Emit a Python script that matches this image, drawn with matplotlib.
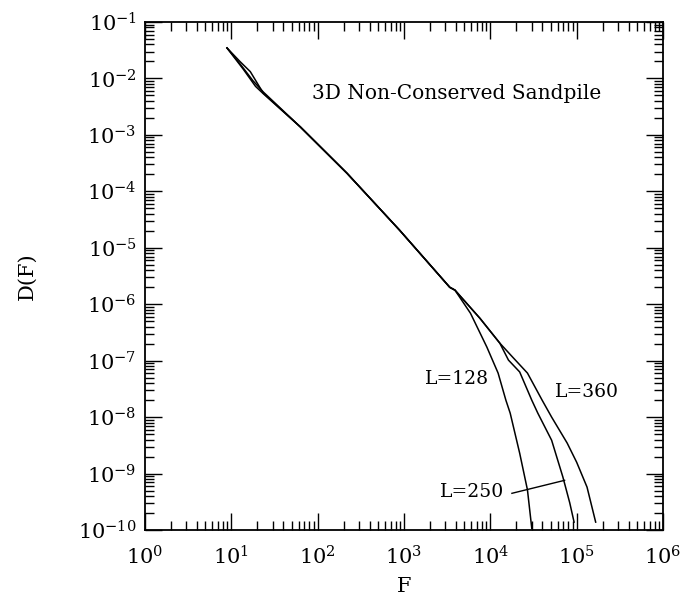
import matplotlib
matplotlib.use("Agg")
import matplotlib.pyplot as plt
import numpy as np

plt.rcParams["font.family"] = "serif"
plt.rcParams["font.serif"] = ["DejaVu Serif"]
plt.rcParams["mathtext.fontset"] = "dejavuserif"

# avalanche flow distribution D(F) (log10 values)
# small-F heads differ a little between system sizes
log_f_head_128 = [0.95, 1.10, 1.22, 1.37]
log_d_head_128 = [-1.46, -1.70, -1.88, -2.26]
log_f_head_250 = [0.95, 1.12, 1.25, 1.37]
log_d_head_250 = [-1.46, -1.78, -2.04, -2.24]
log_f_head_360 = [0.95, 1.14, 1.28, 1.37]
log_d_head_360 = [-1.46, -1.84, -2.14, -2.27]

log_f_common = [1.80, 2.34, 2.95, 3.53, 3.59]
log_d_common = [-2.86, -3.68, -4.69, -5.70, -5.75]

log_f_128 = [3.77, 3.96, 4.09, 4.18, 4.23, 4.34, 4.43, 4.48]
log_d_128 = [-6.16, -6.76, -7.22, -7.70, -7.93, -8.64, -9.29, -9.97]

log_f_250 = [3.88, 4.11, 4.21, 4.34, 4.48, 4.55, 4.71, 4.84, 4.92, 4.97]
log_d_250 = [-6.25, -6.69, -6.99, -7.20, -7.70, -7.93, -8.41, -9.06, -9.52, -9.86]

log_f_360 = [3.88, 4.11, 4.26, 4.43, 4.60, 4.71, 4.89, 5.00, 5.12, 5.22]
log_d_360 = [-6.25, -6.69, -6.94, -7.22, -7.70, -8.00, -8.46, -8.80, -9.24, -9.86]

series = {
    "128": (log_f_head_128, log_d_head_128, log_f_128, log_d_128),
    "250": (log_f_head_250, log_d_head_250, log_f_250, log_d_250),
    "360": (log_f_head_360, log_d_head_360, log_f_360, log_d_360),
}

fig = plt.figure(figsize=(6.84, 6.0), dpi=100)
ax = fig.add_axes([145 / 684, 70 / 600, 518 / 684, 508 / 600])

for name, (hf, hd, lf, ld) in series.items():
    x = 10.0 ** np.array(hf + log_f_common + lf)
    y = 10.0 ** np.array(hd + log_d_common + ld)
    ax.plot(x, y, color="black", lw=1.1)

ax.set_xscale("log")
ax.set_yscale("log")
ax.set_xlim(1, 1e6)
ax.set_ylim(1e-10, 1e-1)
ax.set_xticks([10.0 ** k for k in range(0, 7)])
ax.set_yticks([10.0 ** k for k in range(-10, 0)])
ax.xaxis.set_minor_locator(matplotlib.ticker.LogLocator(base=10, subs=np.arange(2, 10), numticks=20))
ax.yaxis.set_minor_locator(matplotlib.ticker.LogLocator(base=10, subs=np.arange(2, 10), numticks=20))
ax.xaxis.set_minor_formatter(matplotlib.ticker.NullFormatter())
ax.yaxis.set_minor_formatter(matplotlib.ticker.NullFormatter())
ax.tick_params(which="both", direction="in", top=True, right=True, width=1.0, labelsize=15)
ax.tick_params(which="major", length=12)
ax.tick_params(which="minor", length=6.5)
ax.tick_params(axis="x", which="major", pad=11)
ax.tick_params(axis="y", which="major", pad=6)
for sp in ax.spines.values():
    sp.set_linewidth(1.3)

ax.set_xlabel("F", fontsize=15, labelpad=6)
ax.set_ylabel("D(F)", fontsize=15, labelpad=30)

ax.text(10 ** 1.94, 10 ** -2.27, "3D Non-Conserved Sandpile", fontsize=14.5, va="center")
ax.text(10 ** 3.24, 10 ** -7.33, "L=128", fontsize=13.5, va="center")
ax.text(10 ** 4.75, 10 ** -7.55, "L=360", fontsize=13.5, va="center")
ax.text(10 ** 3.42, 10 ** -9.33, "L=250", fontsize=13.5, va="center")
ax.plot([10 ** 4.25, 10 ** 4.86], [10 ** -9.35, 10 ** -9.12], color="black", lw=1.0)

fig.savefig("out.png", dpi=100)
